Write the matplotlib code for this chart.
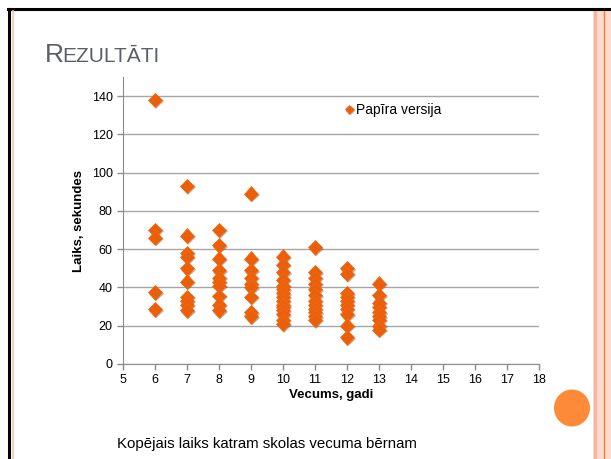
import matplotlib.pyplot as plt
import matplotlib.patheffects as pe
from matplotlib.patches import Ellipse, Rectangle
from matplotlib.lines import Line2D

plt.rcParams['font.family'] = ['Liberation Sans', 'DejaVu Sans']

# values (seconds per child, by age)
age6 = [138, 70, 66, 37.5, 28.5]
age7 = [93, 67, 58, 56, 50, 43, 35, 33, 31, 28]
age8 = [70, 62, 55, 49, 45, 43, 41, 35.5, 31, 28]
age9 = [89, 55, 49, 45, 42, 40, 35, 27, 25]
age10 = [56, 52, 48, 44, 41, 39, 37, 35, 33, 31, 30, 28, 26, 23, 21]
age11 = [61, 48, 45, 42, 39, 36, 33, 31, 29, 27, 25, 23]
age12 = [50, 47, 37, 35, 33, 31, 29, 26, 20, 14]
age13 = [42, 36, 32, 30, 27, 25, 23, 20, 18]
ages = [6, 7, 8, 9, 10, 11, 12, 13]
times = [age6, age7, age8, age9, age10, age11, age12, age13]

x = []
y = []
for a, t in zip(ages, times):
    x += [a] * len(t)
    y += t

fig = plt.figure(figsize=(6.11, 4.59), dpi=100)
W, H = 611, 459

# slide frame
fig.patches.append(Rectangle((593/W, 0), 18/W, 1-10/H, transform=fig.transFigure,
                             facecolor='#fddccf', edgecolor='none'))
fig.add_artist(Line2D([594.5/W, 594.5/W], [0, 1-10/H], color='#f8b49a', lw=2.4))
fig.add_artist(Line2D([604/W, 604/W], [0, 1-10/H], color='#f47c30', lw=1.0))
fig.add_artist(Line2D([8/W, 1], [1-9/H, 1-9/H], color='black', lw=2.2))
fig.add_artist(Line2D([9/W, 9/W], [0, 1-9/H], color='black', lw=2.2))
fig.add_artist(Line2D([13/W, 13/W], [0, 1-11/H], color='#f9c2ae', lw=1.2))

# title in small caps
tcol = '#5b6068'
fig.text(45/W, 1-62/H, 'R', fontsize=19, color=tcol, va='baseline')
fig.text(62/W, 1-62/H, 'EZULTĀTI', fontsize=15, color=tcol, va='baseline')

ax = fig.add_axes([123/W, 1-364/H, 416/W, 287/H])
ax.plot(x, y, linestyle='none', marker='D', markersize=7.5, color='#ec5f0a',
        markeredgecolor='#f06a14', markeredgewidth=0.5, label='Papīra versija',
        path_effects=[pe.SimplePatchShadow(offset=(1, -1), alpha=0.35), pe.Normal()],
        zorder=3)

ax.set_xlim(5, 18)
ax.set_ylim(0, 150)
ax.set_xticks(range(5, 19))
ax.set_yticks(range(0, 141, 20))
ax.yaxis.grid(True, color='#a6a6a6', lw=1)
ax.set_axisbelow(True)
for s in ['top', 'right']:
    ax.spines[s].set_visible(False)
for s in ['left', 'bottom']:
    ax.spines[s].set_color('#8c8c8c')
ax.tick_params(colors='#8c8c8c', labelcolor='black', labelsize=9, length=4, width=1)
ax.set_xlabel('Vecums, gadi', fontsize=9.5, fontweight='bold', labelpad=2)
ax.set_ylabel('Laiks, sekundes', fontsize=9.5, fontweight='bold', labelpad=5)

ax.legend(loc='center left', bbox_to_anchor=(338/W, 1-110/H), bbox_transform=fig.transFigure,
          frameon=False, fontsize=10, markerscale=0.6, handlelength=0.6, handletextpad=0.2,
          borderpad=0)

# decorative circle
fig.patches.append(Ellipse((572/W, 1-408/H), 36/W, 37/H, transform=fig.transFigure,
                           facecolor='#fd8a38', edgecolor='none'))

fig.text(117/W, 1-448/H, 'Kopējais laiks katram skolas vecuma bērnam', fontsize=10.8,
         color='black', va='baseline')

fig.savefig('out.png', dpi=100)
